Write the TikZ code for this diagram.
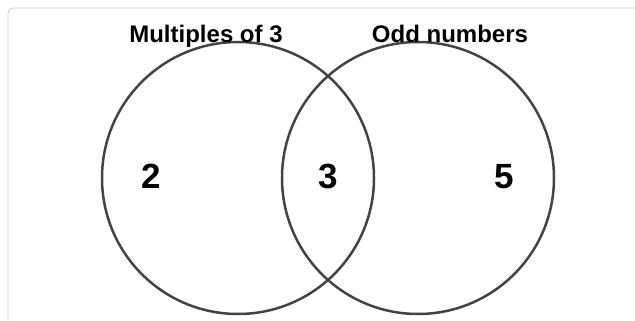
\documentclass[tikz,border=0pt]{standalone}
\usepackage{fontspec}
\setmainfont{Liberation Sans}
\usepackage{xcolor}
\usepackage{tikz}
\usetikzlibrary{positioning}
\definecolor{RingGrey}{RGB}{68,68,68}
\definecolor{FrameGrey}{RGB}{204,204,204}

\begin{document}
\begin{tikzpicture}[x=1pt,y=-1pt]
        % Style cho hai vòng tròn và chữ
        \tikzstyle{ring} = [
            circle,
            draw=RingGrey,
            line width=2.5pt,
            minimum size=272pt,
            inner sep=0pt
        ]
        \tikzstyle{title} = [font=\bfseries\fontsize{24}{27}\selectfont, inner sep=0pt, anchor=base]
        \tikzstyle{num} = [font=\bfseries\fontsize{35}{40}\selectfont, inner sep=0pt, anchor=base]

        % Khung ngoài
        \useasboundingbox (0,0) rectangle (635,321);
        \clip (0,0) rectangle (635,321);
        \draw[FrameGrey, line width=0.9pt, rounded corners=5pt] (8,8) rectangle (660,340);

        % Hai tập hợp
        \node[ring] (mult) at (238,178) {};
        \node[ring] (odd) at (418,178) {};

        % Tên tập hợp
        \node[title] (multname) at (206,43) {Multiples of 3};
        \node[title] (oddname) at (450,43) {Odd numbers};

        % Các phần tử
        \node[num] (two) at (151,188) {2};
        \node[num] (three) at (328,188) {3};
        \node[num] (five) at (504,188) {5};
    \end{tikzpicture}
\end{document}
